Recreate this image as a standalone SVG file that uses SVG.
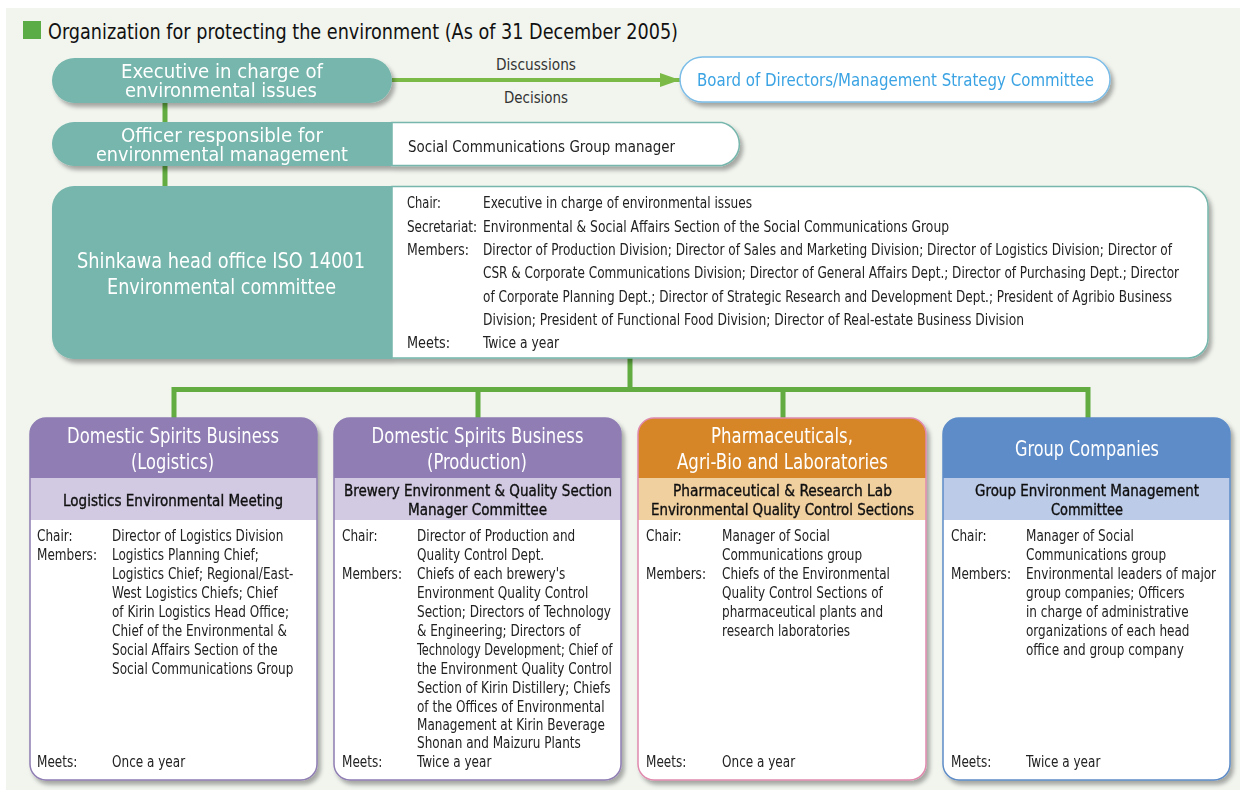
<svg xmlns="http://www.w3.org/2000/svg" width="1245" height="795" viewBox="0 0 1245 795">
<defs>
<filter id="sh" x="-5%" y="-10%" width="115%" height="130%"><feDropShadow dx="3" dy="4" stdDeviation="2.2" flood-color="#000" flood-opacity="0.32"/></filter>
<marker id="ah" viewBox="0 0 20 14" markerWidth="20" markerHeight="14" refX="20" refY="7" orient="auto" markerUnits="userSpaceOnUse"><path d="M0,0 L20,7 L0,14 Z" fill="#7cba48"/></marker>
</defs>
<style>
text{font-family:"Liberation Sans Narrow","DejaVu Sans Condensed","Liberation Sans",sans-serif;}
.title{font-size:21px;fill:#111;}
.hw{font-size:21px;fill:#fff;text-anchor:middle;}
.lab{font-size:16.5px;fill:#333;text-anchor:middle;}
.bd{font-size:18px;fill:#3aa3e3;}
.tx{font-size:16.5px;fill:#222;}
.cm{font-size:15.5px;fill:#222;}
.sub{font-size:15.5px;fill:#111;stroke:#111;stroke-width:0.35;text-anchor:middle;}
.conn{stroke:#62ac41;stroke-width:5;fill:none;}
.teal{fill:#76b6ac;}
</style>
<rect x="0" y="0" width="1245" height="795" fill="#ffffff"/>
<rect x="6" y="8" width="1234" height="782" fill="#f1f5ee"/>
<g id="title">
<rect x="23" y="21" width="18" height="18" fill="#5bab47"/>
<text class="title" x="48" y="39" textLength="630" lengthAdjust="spacingAndGlyphs">Organization for protecting the environment (As of 31 December 2005)</text>
</g>
<g id="connectors">
<line x1="392" y1="80" x2="680" y2="80" stroke="#7cba48" stroke-width="4" marker-end="url(#ah)"/>
<line class="conn" x1="165" y1="102" x2="165" y2="124"/>
<line class="conn" x1="165" y1="165" x2="165" y2="188"/>
<path class="conn" d="M630,358 V389.5 M174,418 V389.5 H1088 V418 M478,389.5 V418 M783,389.5 V418"/>
<text class="lab" x="536" y="70" textLength="80" lengthAdjust="spacingAndGlyphs">Discussions</text>
<text class="lab" x="536" y="103" textLength="64" lengthAdjust="spacingAndGlyphs">Decisions</text>
</g>
<g id="exec" filter="url(#sh)">
<rect class="teal" x="52" y="58" width="340" height="45" rx="22.5"/>
<text class="hw" x="222" y="78" style="font-size:20px" textLength="202" lengthAdjust="spacingAndGlyphs">Executive in charge of</text>
<text class="hw" x="221" y="97" style="font-size:20px" textLength="192" lengthAdjust="spacingAndGlyphs">environmental issues</text>
</g>
<g id="board" filter="url(#sh)">
<rect x="680" y="57" width="430" height="45" rx="22.5" fill="#fff" stroke="#7cbde8" stroke-width="1.5"/>
<text class="bd" x="697" y="86" textLength="397" lengthAdjust="spacingAndGlyphs">Board of Directors/Management Strategy Committee</text>
</g>
<g id="officer" filter="url(#sh)">
<path d="M392,122.5 H722 A22,22 0 0 1 722,165.5 H392 Z" fill="#fff" stroke="#76b6ac" stroke-width="1.5"/>
<path class="teal" d="M74,122 H392 V166 H74 A22,22 0 0 1 74,122 Z"/>
<text class="hw" x="222" y="142" style="font-size:20px" textLength="202" lengthAdjust="spacingAndGlyphs">Officer responsible for</text>
<text class="hw" x="222" y="161" style="font-size:20px" textLength="252" lengthAdjust="spacingAndGlyphs">environmental management</text>
<text class="tx" x="408" y="152" textLength="267" lengthAdjust="spacingAndGlyphs">Social Communications Group manager</text>
</g>
<g id="committee" filter="url(#sh)">
<path d="M392,186.5 H1188 A20,20 0 0 1 1208,206.5 V338 A20,20 0 0 1 1188,358 H392 Z" fill="#fff" stroke="#76b6ac" stroke-width="1.5"/>
<path class="teal" d="M74,186 H392 V359 H74 A22,22 0 0 1 52,337 V208 A22,22 0 0 1 74,186 Z"/>
<text class="hw" x="221" y="268" style="font-size:22px" textLength="288" lengthAdjust="spacingAndGlyphs">Shinkawa head office ISO 14001</text>
<text class="hw" x="221.5" y="294" style="font-size:22px" textLength="229" lengthAdjust="spacingAndGlyphs">Environmental committee</text>
<text class="cm" x="407" y="208" textLength="34" lengthAdjust="spacingAndGlyphs">Chair:</text>
<text class="cm" x="407" y="232" textLength="70" lengthAdjust="spacingAndGlyphs">Secretariat:</text>
<text class="cm" x="407" y="255" textLength="62" lengthAdjust="spacingAndGlyphs">Members:</text>
<text class="cm" x="407" y="348" textLength="43" lengthAdjust="spacingAndGlyphs">Meets:</text>
<g transform="translate(483,0) scale(0.86,1)">
<text class="cm" x="0" y="208" textLength="312.8" lengthAdjust="spacingAndGlyphs">Executive in charge of environmental issues</text>
<text class="cm" x="0" y="232" textLength="541.9" lengthAdjust="spacingAndGlyphs">Environmental &amp; Social Affairs Section of the Social Communications Group</text>
<text class="cm" x="0" y="255" textLength="801.2" lengthAdjust="spacingAndGlyphs">Director of Production Division; Director of Sales and Marketing Division; Director of Logistics Division; Director of</text>
<text class="cm" x="0" y="278" textLength="809.3" lengthAdjust="spacingAndGlyphs">CSR &amp; Corporate Communications Division; Director of General Affairs Dept.; Director of Purchasing Dept.; Director</text>
<text class="cm" x="0" y="302" textLength="801.2" lengthAdjust="spacingAndGlyphs">of Corporate Planning Dept.; Director of Strategic Research and Development Dept.; President of Agribio Business</text>
<text class="cm" x="0" y="325" textLength="629.1" lengthAdjust="spacingAndGlyphs">Division; President of Functional Food Division; Director of Real-estate Business Division</text>
<text class="cm" x="0" y="348" textLength="88.4" lengthAdjust="spacingAndGlyphs">Twice a year</text>
</g>
</g>
<g id="box-logistics" filter="url(#sh)">
<rect x="30" y="418" width="287" height="362" rx="16" fill="#fff"/>
<path d="M46,418 H301 A16,16 0 0 1 317,434 V478 H30 V434 A16,16 0 0 1 46,418 Z" fill="#8f7db3"/>
<rect x="30" y="478" width="287" height="42" fill="#d2cae2"/>
<rect x="30" y="418" width="287" height="362" rx="16" fill="none" stroke="#8f7db3" stroke-width="1.5"/>
<text class="hw" x="173" y="443" textLength="212" lengthAdjust="spacingAndGlyphs">Domestic Spirits Business</text>
<text class="hw" x="172.5" y="469" textLength="83" lengthAdjust="spacingAndGlyphs">(Logistics)</text>
<text class="sub" x="173" y="506" textLength="220" lengthAdjust="spacingAndGlyphs">Logistics Environmental Meeting</text>
<g transform="translate(37,0) scale(0.865,1)">
<text class="cm" x="0" y="541">Chair:</text>
<text class="cm" x="0" y="560">Members:</text>
<text class="cm" x="0" y="767">Meets:</text>
</g>
<g transform="translate(112,0) scale(0.865,1)">
<text class="cm" x="0" y="541">Director of Logistics Division</text>
<text class="cm" x="0" y="560">Logistics Planning Chief;</text>
<text class="cm" x="0" y="579">Logistics Chief; Regional/East-</text>
<text class="cm" x="0" y="598">West Logistics Chiefs; Chief</text>
<text class="cm" x="0" y="617">of Kirin Logistics Head Office;</text>
<text class="cm" x="0" y="636">Chief of the Environmental &amp;</text>
<text class="cm" x="0" y="655">Social Affairs Section of the</text>
<text class="cm" x="0" y="674">Social Communications Group</text>
<text class="cm" x="0" y="767">Once a year</text>
</g>
</g>
<g id="box-production" filter="url(#sh)">
<rect x="334" y="418" width="287" height="362" rx="16" fill="#fff"/>
<path d="M350,418 H605 A16,16 0 0 1 621,434 V478 H334 V434 A16,16 0 0 1 350,418 Z" fill="#8f7db3"/>
<rect x="334" y="478" width="287" height="42" fill="#d2cae2"/>
<rect x="334" y="418" width="287" height="362" rx="16" fill="none" stroke="#8f7db3" stroke-width="1.5"/>
<text class="hw" x="477.5" y="443" textLength="212" lengthAdjust="spacingAndGlyphs">Domestic Spirits Business</text>
<text class="hw" x="477" y="469" textLength="100" lengthAdjust="spacingAndGlyphs">(Production)</text>
<text class="sub" x="478" y="496" textLength="268" lengthAdjust="spacingAndGlyphs">Brewery Environment &amp; Quality Section</text>
<text class="sub" x="477.5" y="515" textLength="139" lengthAdjust="spacingAndGlyphs">Manager Committee</text>
<g transform="translate(342,0) scale(0.865,1)">
<text class="cm" x="0" y="541">Chair:</text>
<text class="cm" x="0" y="579">Members:</text>
<text class="cm" x="0" y="767">Meets:</text>
</g>
<g transform="translate(417,0) scale(0.865,1)">
<text class="cm" x="0" y="541">Director of Production and</text>
<text class="cm" x="0" y="560">Quality Control Dept.</text>
<text class="cm" x="0" y="579">Chiefs of each brewery's</text>
<text class="cm" x="0" y="598">Environment Quality Control</text>
<text class="cm" x="0" y="617">Section; Directors of Technology</text>
<text class="cm" x="0" y="636">&amp; Engineering; Directors of</text>
<text class="cm" x="0" y="655" textLength="226" lengthAdjust="spacingAndGlyphs">Technology Development; Chief of</text>
<text class="cm" x="0" y="674">the Environment Quality Control</text>
<text class="cm" x="0" y="693">Section of Kirin Distillery; Chiefs</text>
<text class="cm" x="0" y="712">of the Offices of Environmental</text>
<text class="cm" x="0" y="730">Management at Kirin Beverage</text>
<text class="cm" x="0" y="748">Shonan and Maizuru Plants</text>
<text class="cm" x="0" y="767">Twice a year</text>
</g>
</g>
<g id="box-pharma" filter="url(#sh)">
<rect x="638" y="418" width="288" height="362" rx="16" fill="#fff"/>
<path d="M654,418 H910 A16,16 0 0 1 926,434 V478 H638 V434 A16,16 0 0 1 654,418 Z" fill="#d68627"/>
<rect x="638" y="478" width="288" height="42" fill="#f1d0a0"/>
<rect x="638" y="418" width="288" height="362" rx="16" fill="none" stroke="#e08aae" stroke-width="1.5"/>
<text class="hw" x="782" y="443" textLength="142" lengthAdjust="spacingAndGlyphs">Pharmaceuticals,</text>
<text class="hw" x="782.5" y="469" textLength="211" lengthAdjust="spacingAndGlyphs">Agri-Bio and Laboratories</text>
<text class="sub" x="782.5" y="496" textLength="219" lengthAdjust="spacingAndGlyphs">Pharmaceutical &amp; Research Lab</text>
<text class="sub" x="782.5" y="515" textLength="263" lengthAdjust="spacingAndGlyphs">Environmental Quality Control Sections</text>
<g transform="translate(646,0) scale(0.865,1)">
<text class="cm" x="0" y="541">Chair:</text>
<text class="cm" x="0" y="579">Members:</text>
<text class="cm" x="0" y="767">Meets:</text>
</g>
<g transform="translate(722,0) scale(0.865,1)">
<text class="cm" x="0" y="541">Manager of Social</text>
<text class="cm" x="0" y="560">Communications group</text>
<text class="cm" x="0" y="579">Chiefs of the Environmental</text>
<text class="cm" x="0" y="598">Quality Control Sections of</text>
<text class="cm" x="0" y="617">pharmaceutical plants and</text>
<text class="cm" x="0" y="636">research laboratories</text>
<text class="cm" x="0" y="767">Once a year</text>
</g>
</g>
<g id="box-group" filter="url(#sh)">
<rect x="943" y="418" width="287" height="362" rx="16" fill="#fff"/>
<path d="M959,418 H1214 A16,16 0 0 1 1230,434 V478 H943 V434 A16,16 0 0 1 959,418 Z" fill="#5d8cc8"/>
<rect x="943" y="478" width="287" height="42" fill="#bccbe8"/>
<rect x="943" y="418" width="287" height="362" rx="16" fill="none" stroke="#5d8cc8" stroke-width="1.5"/>
<text class="hw" x="1087" y="456" textLength="144" lengthAdjust="spacingAndGlyphs">Group Companies</text>
<text class="sub" x="1087" y="496" textLength="224" lengthAdjust="spacingAndGlyphs">Group Environment Management</text>
<text class="sub" x="1087" y="515" textLength="72" lengthAdjust="spacingAndGlyphs">Committee</text>
<g transform="translate(951,0) scale(0.865,1)">
<text class="cm" x="0" y="541">Chair:</text>
<text class="cm" x="0" y="579">Members:</text>
<text class="cm" x="0" y="767">Meets:</text>
</g>
<g transform="translate(1026,0) scale(0.865,1)">
<text class="cm" x="0" y="541">Manager of Social</text>
<text class="cm" x="0" y="560">Communications group</text>
<text class="cm" x="0" y="579">Environmental leaders of major</text>
<text class="cm" x="0" y="598">group companies; Officers</text>
<text class="cm" x="0" y="617">in charge of administrative</text>
<text class="cm" x="0" y="636">organizations of each head</text>
<text class="cm" x="0" y="655">office and group company</text>
<text class="cm" x="0" y="767">Twice a year</text>
</g>
</g>
</svg>
